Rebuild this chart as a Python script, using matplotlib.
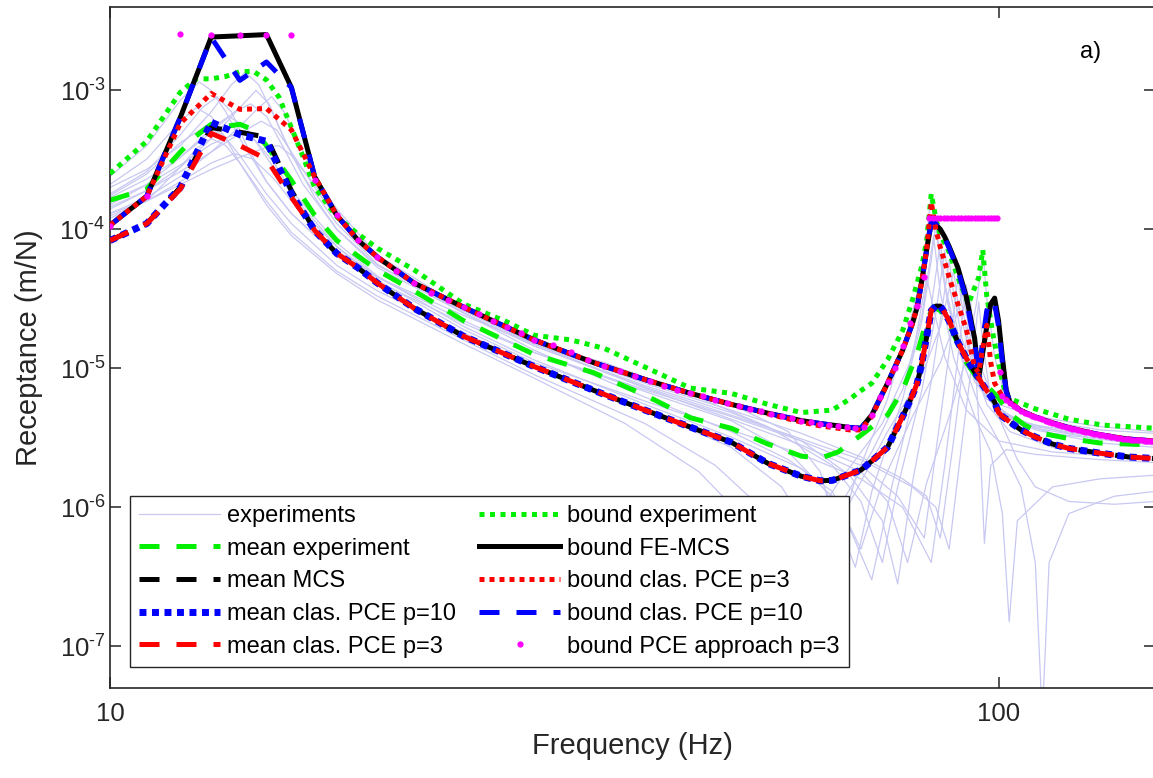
import matplotlib
matplotlib.use("Agg")
import matplotlib.pyplot as plt
import numpy as np
from matplotlib.ticker import FixedLocator, NullLocator, FixedFormatter

plt.rcParams['font.family'] = ['Liberation Sans', 'DejaVu Sans']
plt.rcParams['mathtext.fontset'] = 'custom'
plt.rcParams['mathtext.rm'] = 'Liberation Sans'
plt.rcParams['mathtext.it'] = 'Liberation Sans:italic'
plt.rcParams['axes.unicode_minus'] = False

# ---------------- data ----------------
# measured FRFs, (frequency Hz, receptance m/N)
exp_curves = [
    [(10, 2.4e-4), (11, 4.0e-4), (12, 8.5e-4), (12.6, 1.15e-3), (13, 1.0e-3), (13.5, 7e-4), (14, 4.5e-4),
     (15, 2.2e-4), (16, 1.3e-4), (17, 9e-5), (18, 7e-5), (20, 4.5e-5), (25, 2.4e-5), (30, 1.5e-5), (40, 8e-6),
     (50, 5.5e-6), (58, 3.5e-6), (63, 1.8e-6), (66, 6e-7), (69, 1.6e-6), (75, 6e-6), (80, 2.5e-5), (82, 5e-5),
     (83, 9e-5), (84, 1.8e-4), (85, 1e-4), (87, 4e-5), (90, 1.6e-5), (95, 8e-6), (100, 5.5e-6), (110, 4.5e-6),
     (130, 3.8e-6), (150, 3.5e-6)],
    [(10, 1.8e-4), (11, 2.6e-4), (12, 4.8e-4), (12.7, 7.5e-4), (13.2, 9e-4), (13.7, 7e-4), (14.2, 4.2e-4),
     (15, 2.2e-4), (16, 1.3e-4), (18, 6.5e-5), (20, 4.2e-5), (25, 2.1e-5), (30, 1.3e-5), (40, 6.8e-6),
     (50, 4.2e-6), (58, 2.5e-6), (64, 1.3e-6), (69, 3.7e-7), (72, 1.3e-6), (78, 6e-6), (82, 2.2e-5),
     (84, 6e-5), (85, 1.1e-4), (86, 6e-5), (88, 2.6e-5), (92, 1.1e-5), (97, 6e-6), (105, 4.2e-6),
     (120, 3.4e-6), (150, 3.1e-6)],
    [(10, 2.0e-4), (11, 2.7e-4), (12, 4e-4), (13, 7e-4), (13.7, 1.1e-3), (14.2, 1.35e-3), (14.7, 1.1e-3),
     (15.3, 6.5e-4), (16, 3.5e-4), (17, 1.7e-4), (18, 1.0e-4), (20, 5.5e-5), (25, 2.6e-5), (30, 1.5e-5),
     (36, 1.1e-5), (45, 6.5e-6), (55, 3.8e-6), (65, 2e-6), (70, 1.1e-6), (74, 4e-7), (77, 1.4e-6), (82, 7e-6),
     (85, 2.5e-5), (87, 7e-5), (88, 4e-5), (90, 1.8e-5), (94, 8e-6), (100, 5e-6), (110, 3.8e-6),
     (130, 3.2e-6), (150, 3e-6)],
    [(10, 1.4e-4), (11, 1.9e-4), (12, 2.8e-4), (13, 4.5e-4), (14, 7.5e-4), (14.6, 1.0e-3), (15.1, 8e-4),
     (15.7, 4.5e-4), (16.5, 2.4e-4), (18, 1.1e-4), (20, 5.6e-5), (25, 2.5e-5), (30, 1.45e-5), (40, 7.5e-6),
     (50, 4.8e-6), (60, 3e-6), (68, 1.7e-6), (74, 8e-7), (77, 2.8e-7), (80, 1.5e-6), (84, 8e-6), (86, 2.2e-5),
     (88, 6e-5), (89, 3.5e-5), (91, 1.6e-5), (95, 7.5e-6), (100, 4.8e-6), (110, 3.7e-6), (130, 3.1e-6),
     (150, 2.9e-6)],
    [(10, 1.5e-4), (11, 2.1e-4), (12, 3.3e-4), (13, 5.3e-4), (13.6, 6.5e-4), (14.2, 5.5e-4), (15, 3.3e-4),
     (16, 1.8e-4), (18, 7.5e-5), (20, 4.5e-5), (25, 2.2e-5), (30, 1.3e-5), (40, 7e-6), (50, 4.5e-6),
     (60, 3e-6), (70, 2e-6), (77, 1.2e-6), (82.5, 6e-7), (85, 2.5e-6), (88, 1.3e-5), (90, 4.5e-5),
     (91, 2.8e-5), (93, 1.3e-5), (97, 6.5e-6), (103, 4.3e-6), (115, 3.4e-6), (135, 3e-6), (150, 2.8e-6)],
    [(10, 1.3e-4), (11, 1.7e-4), (12, 2.4e-4), (13, 3.6e-4), (14, 5.5e-4), (14.7, 7.5e-4), (15.2, 9e-4),
     (15.7, 7e-4), (16.3, 4.2e-4), (17, 2.4e-4), (18, 1.4e-4), (20, 6.5e-5), (25, 2.7e-5), (30, 1.5e-5),
     (40, 7.8e-6), (50, 5e-6), (60, 3.4e-6), (70, 2.3e-6), (78, 1.6e-6), (83, 1.2e-6), (86, 6e-7), (89, 3e-6),
     (91.5, 1.2e-5), (93, 3e-5), (94, 1.3e-5), (95.3, 3e-6), (96.4, 5.5e-7), (98, 2e-6), (102, 2.6e-6),
     (110, 2.4e-6), (130, 2.2e-6), (150, 2.1e-6)],
    [(10, 1.2e-4), (11, 1.6e-4), (12, 2.8e-4), (12.5, 3.8e-4), (13, 4.5e-4), (13.5, 4e-4), (14, 3e-4),
     (15, 1.6e-4), (16, 9.5e-5), (18, 5e-5), (20, 3.3e-5), (25, 1.6e-5), (30, 9e-6), (40, 4e-6), (48, 2e-6),
     (54, 1e-6), (60, 2e-7), (64, 7e-7), (72, 2.5e-6), (78, 7e-6), (82, 2.4e-5), (84.5, 9e-5), (86, 3.5e-5),
     (89, 1.2e-5), (94, 4.5e-6), (98, 2.5e-6), (101, 9e-7), (102.8, 1.5e-7), (105, 8e-7), (115, 1.4e-6),
     (130, 1.6e-6), (150, 1.7e-6)],
    [(10, 1.6e-4), (11, 2.1e-4), (12, 2.9e-4), (13, 4.1e-4), (14, 5e-4), (14.6, 4.3e-4), (15.3, 3e-4),
     (16, 1.9e-4), (18, 8e-5), (20, 4.6e-5), (25, 2e-5), (30, 1.15e-5), (40, 5.5e-6), (50, 3.2e-6),
     (60, 1.9e-6), (66, 1.1e-6), (72, 3e-7), (76, 1.5e-6), (81, 8e-6), (84, 2.8e-5), (86, 8e-5), (87, 4e-5),
     (90, 1.4e-5), (95, 5.5e-6), (100, 3e-6), (106, 1.4e-6), (110, 4e-7), (112, 3e-8), (114, 4e-7),
     (120, 9e-7), (135, 1.2e-6), (150, 1.3e-6)],
    [(10, 1.45e-4), (11, 1.9e-4), (12, 2.6e-4), (13, 3.6e-4), (14, 4.9e-4), (14.8, 6e-4), (15.4, 5.2e-4),
     (16, 3.6e-4), (17, 2e-4), (18, 1.2e-4), (20, 6e-5), (25, 2.6e-5), (30, 1.5e-5), (40, 7.2e-6),
     (50, 4.3e-6), (60, 2.8e-6), (70, 1.8e-6), (75, 1.1e-6), (79, 4e-7), (83, 1.5e-6), (88, 4.5e-6),
     (92, 1.2e-5), (94.5, 3e-5), (96, 7e-5), (97, 3.2e-5), (99, 1.2e-5), (102, 6e-6), (110, 4.3e-6),
     (130, 3.6e-6), (150, 3.4e-6)],
    [(10, 1.75e-4), (11, 2.5e-4), (12, 4.2e-4), (12.8, 5.5e-4), (13.4, 4.8e-4), (14, 3.4e-4), (15, 1.8e-4),
     (16, 1.1e-4), (18, 5.5e-5), (20, 3.6e-5), (25, 1.8e-5), (30, 1.05e-5), (40, 5e-6), (50, 2.7e-6),
     (57, 1.4e-6), (61, 7e-7), (64, 2.5e-7), (67, 9e-7), (75, 3.5e-6), (82, 9e-6), (86, 2e-5), (89, 5e-5),
     (90, 3e-5), (93, 1.2e-5), (97, 5.5e-6), (103, 3.5e-6), (115, 2.7e-6), (130, 2.4e-6), (150, 2.3e-6)],
    [(10, 1.3e-4), (11, 1.6e-4), (12, 2.1e-4), (13, 2.7e-4), (14, 3.3e-4), (15, 3.9e-4), (15.5, 4e-4),
     (16, 3.4e-4), (17, 2.1e-4), (18, 1.3e-4), (20, 6e-5), (25, 2.5e-5), (30, 1.35e-5), (40, 6.2e-6),
     (50, 3.5e-6), (58, 2.2e-6), (65, 1.3e-6), (70, 5e-7), (74, 1.5e-6), (80, 4.5e-6), (86, 1.1e-5),
     (89, 2e-5), (91, 3.5e-5), (92, 2.4e-5), (95, 1.1e-5), (100, 5e-6), (110, 3.6e-6), (130, 2.9e-6),
     (150, 2.7e-6)],
    [(10, 1.25e-4), (11, 1.6e-4), (12, 2.2e-4), (13, 3e-4), (13.8, 3.5e-4), (14.5, 3.2e-4), (15.3, 2.3e-4),
     (16, 1.6e-4), (18, 7.5e-5), (20, 4.3e-5), (25, 1.9e-5), (30, 1.1e-5), (40, 5.8e-6), (50, 3.6e-6),
     (60, 2.4e-6), (70, 1.6e-6), (78, 1e-6), (84, 4e-7), (87, 2e-6), (90, 1.2e-5), (92, 4e-5), (93, 2.2e-5),
     (96, 8e-6), (100, 4.5e-6), (105, 2.2e-6), (110, 1.4e-6), (120, 1.1e-6), (135, 1.05e-6), (150, 1.1e-6)],
    [(10, 2.1e-4), (11, 3.2e-4), (12, 6e-4), (12.5, 7.5e-4), (13, 6.5e-4), (13.5, 4.5e-4), (14, 3e-4),
     (15, 1.5e-4), (16, 9e-5), (18, 4.8e-5), (20, 3.1e-5), (25, 1.5e-5), (30, 8.5e-6), (38, 4e-6),
     (46, 1.8e-6), (52, 8e-7), (56, 1.2e-7), (59, 5e-7), (66, 1.5e-6), (74, 4e-6), (80, 1.2e-5), (83, 4.5e-5),
     (84, 3.2e-5), (87, 1.2e-5), (92, 5e-6), (100, 3e-6), (115, 2.5e-6), (150, 2.2e-6)],
    [(10, 1.7e-4), (11, 2.3e-4), (12, 3.3e-4), (13, 5e-4), (13.8, 7e-4), (14.4, 8e-4), (15, 6.5e-4),
     (15.7, 3.8e-4), (16.5, 2.1e-4), (18, 1e-4), (20, 5.3e-5), (25, 2.5e-5), (30, 1.45e-5), (40, 7.3e-6),
     (50, 4.6e-6), (60, 3.1e-6), (70, 2.2e-6), (80, 1.4e-6), (85, 1e-6), (88, 5e-7), (91, 3e-6),
     (93.5, 1.2e-5), (95, 3e-5), (96, 1.5e-5), (98, 6e-6), (102, 4.5e-6), (110, 3.9e-6), (130, 3.3e-6),
     (150, 3.1e-6)],
]

# experiment statistics
f_mean_exp = [10, 11, 12, 12.5, 13, 13.5, 14, 14.5, 15, 16, 17, 18, 20, 22, 25, 30, 35, 40, 45, 50, 55, 60,
              63, 66, 70, 75, 78, 81, 83, 84.5, 86, 88, 90, 92, 95, 98, 100, 103, 107, 112, 120, 130, 150]
mean_exp = [1.62e-4, 1.95e-4, 3.6e-4, 4.7e-4, 5.7e-4, 5.5e-4, 5.7e-4, 5.2e-4, 4.0e-4, 2.25e-4, 1.26e-4,
            8.3e-5, 5.07e-5, 3.6e-5, 2.2e-5, 1.26e-5, 9.3e-6, 6.4e-6, 4.4e-6, 3.7e-6, 2.85e-6, 2.33e-6,
            2.25e-6, 2.5e-6, 3.3e-6, 4.6e-6, 6.95e-6, 1.28e-5, 2.2e-5, 2.76e-5, 2.6e-5, 2.07e-5, 1.51e-5,
            1.1e-5, 8.2e-6, 7.0e-6, 6.1e-6, 4.7e-6, 3.9e-6, 3.4e-6, 3.12e-6, 2.9e-6, 2.8e-6]

f_bound_exp = [10, 11, 12, 12.5, 13, 13.5, 14, 14.5, 15, 15.5, 16, 16.5, 17, 18, 19, 20, 22, 25, 28, 30, 33,
               36, 40, 45, 50, 55, 60, 65, 68, 70, 72, 75, 78, 80, 82, 83, 84, 85, 86, 87.6, 90.5, 92.5, 94,
               95, 96, 97, 98.7, 100.4, 102, 110, 120, 131, 150]
bound_exp = [2.52e-4, 4.3e-4, 9.7e-4, 1.21e-3, 1.21e-3, 1.26e-3, 1.36e-3, 1.37e-3, 1.19e-3, 8.9e-4, 5.4e-4,
             3.3e-4, 2.0e-4, 1.23e-4, 9.3e-5, 7.3e-5, 5.1e-5, 2.9e-5, 2.15e-5, 1.73e-5, 1.6e-5, 1.39e-5,
             1.02e-5, 7.2e-6, 6.6e-6, 5.5e-6, 4.8e-6, 5.0e-6, 6.0e-6, 6.9e-6, 7.8e-6, 1.15e-5, 1.87e-5, 3.1e-5,
             5.5e-5, 8.3e-5, 1.8e-4, 1.2e-4, 9e-5, 7.4e-5, 4.1e-5, 2.9e-5, 3.8e-5, 4.5e-5, 7.1e-5, 3.3e-5,
             1.67e-5, 9.6e-6, 6.2e-6, 5.1e-6, 4.3e-6, 3.9e-6, 3.7e-6]

# simulated FRFs on a common frequency grid
f_sim = [10, 11, 12, 13, 14, 15, 16, 17, 18, 19, 20, 22, 25, 30, 35, 40, 45, 50, 55, 60,
         63, 65, 68, 70, 72, 75, 78, 80, 81, 82, 83, 84, 85, 86, 87, 88, 90, 92, 94, 95,
         96, 97, 98, 99, 100, 101, 102, 103, 106, 110, 115, 120, 130, 140, 150]

mean_mcs = [8.3e-5, 1.1e-4, 2.0e-4, 5.4e-4, 5.0e-4, 4.6e-4, 1.9e-4, 9.8e-5, 6.7e-5, 5.3e-5, 4.1e-5,
            2.7e-5, 1.7e-5, 1.03e-5, 6.95e-6, 5.0e-6, 3.77e-6, 2.94e-6, 2.07e-6, 1.67e-6,
            1.55e-6, 1.56e-6, 1.73e-6, 1.85e-6, 2.15e-6, 2.7e-6, 4.5e-6, 6.4e-6,
            7.8e-6, 1.1e-5, 1.68e-5, 2.6e-5, 2.8e-5, 2.8e-5, 2.5e-5, 2.2e-5,
            1.54e-5, 1.18e-5, 9.4e-6,
            8.5e-6, 7.6e-6, 6.9e-6, 6.3e-6, 5.7e-6, 4.8e-6, 4.5e-6, 4.3e-6, 4.1e-6,
            3.6e-6, 3.2e-6, 2.85e-6, 2.65e-6, 2.45e-6, 2.3e-6, 2.24e-6]
mean_p10 = [8.3e-5, 1.1e-4, 2.0e-4, 5.9e-4, 4.8e-4, 4.3e-4, 1.8e-4, 9.8e-5, 6.7e-5, 5.3e-5, 4.1e-5,
            2.7e-5, 1.7e-5, 1.03e-5, 6.95e-6, 5.0e-6, 3.77e-6, 2.94e-6, 2.07e-6, 1.67e-6,
            1.55e-6, 1.56e-6, 1.73e-6, 1.85e-6, 2.15e-6, 2.7e-6, 4.5e-6, 6.4e-6,
            7.8e-6, 1.1e-5, 1.68e-5, 2.6e-5, 2.8e-5, 2.8e-5, 2.5e-5, 2.2e-5,
            1.54e-5, 1.18e-5, 9.4e-6,
            8.5e-6, 7.6e-6, 6.9e-6, 6.3e-6, 5.7e-6, 4.8e-6, 4.5e-6, 4.3e-6, 4.1e-6,
            3.6e-6, 3.2e-6, 2.85e-6, 2.65e-6, 2.45e-6, 2.3e-6, 2.24e-6]
mean_p3 = [8.3e-5, 1.1e-4, 1.95e-4, 4.9e-4, 4.0e-4, 3.2e-4, 1.7e-4, 9.8e-5, 6.7e-5, 5.3e-5, 4.1e-5,
           2.7e-5, 1.7e-5, 1.03e-5, 6.95e-6, 5.0e-6, 3.77e-6, 2.94e-6, 2.07e-6, 1.67e-6,
           1.55e-6, 1.56e-6, 1.73e-6, 1.85e-6, 2.15e-6, 2.7e-6, 4.5e-6, 6.4e-6,
           7.8e-6, 1.1e-5, 1.68e-5, 2.6e-5, 2.9e-5, 2.9e-5, 2.5e-5, 2.2e-5,
           1.54e-5, 1.18e-5, 9.4e-6,
           8.5e-6, 7.6e-6, 6.9e-6, 6.3e-6, 5.7e-6, 4.8e-6, 4.5e-6, 4.3e-6, 4.1e-6,
           3.6e-6, 3.2e-6, 2.85e-6, 2.65e-6, 2.45e-6, 2.3e-6, 2.24e-6]

bound_mcs = [1.07e-4, 1.73e-4, 6.4e-4, 2.42e-3, 2.47e-3, 2.52e-3, 1.05e-3, 2.38e-4, 1.26e-4, 8.4e-5, 6.3e-5,
             4.1e-5, 2.75e-5, 1.6e-5, 1.1e-5, 8.3e-6, 6.6e-6, 5.5e-6, 4.75e-6, 4.2e-6,
             4.0e-6, 3.9e-6, 3.75e-6, 3.7e-6, 4.6e-6, 7.8e-6, 1.35e-5, 2.1e-5,
             2.76e-5, 4.3e-5, 7.1e-5, 1.12e-4, 1.08e-4, 1.0e-4, 8.8e-5, 7.5e-5,
             5.3e-5, 3.26e-5, 1.64e-5,
             8.6e-6, 1.3e-5, 2.0e-5, 2.9e-5, 3.2e-5, 2.2e-5, 1.2e-5, 7.0e-6, 5.7e-6,
             4.95e-6, 4.46e-6, 4.05e-6, 3.73e-6, 3.32e-6, 3.09e-6, 2.99e-6]
bound_p10 = [1.07e-4, 1.73e-4, 6.4e-4, 2.4e-3, 1.18e-3, 1.6e-3, 1.05e-3, 2.38e-4, 1.26e-4, 8.4e-5, 6.3e-5,
             4.1e-5, 2.75e-5, 1.6e-5, 1.1e-5, 8.3e-6, 6.6e-6, 5.5e-6, 4.75e-6, 4.2e-6,
             4.0e-6, 3.9e-6, 3.75e-6, 3.7e-6, 4.6e-6, 7.8e-6, 1.35e-5, 2.1e-5,
             2.76e-5, 4.3e-5, 7.1e-5, 1.12e-4, 1.1e-4, 9.8e-5, 8.6e-5, 7.3e-5,
             5.1e-5, 3.1e-5, 1.5e-5,
             9.0e-6, 1.6e-5, 2.6e-5, 3.1e-5, 2.9e-5, 2.0e-5, 1.1e-5, 6.8e-6, 5.7e-6,
             4.95e-6, 4.46e-6, 4.05e-6, 3.73e-6, 3.32e-6, 3.09e-6, 2.99e-6]
bound_p3 = [1.07e-4, 1.73e-4, 5.8e-4, 9.5e-4, 7.3e-4, 7.4e-4, 5.2e-4, 2.38e-4, 1.26e-4, 8.4e-5, 6.3e-5,
            4.1e-5, 2.75e-5, 1.6e-5, 1.1e-5, 8.3e-6, 6.6e-6, 5.5e-6, 4.7e-6, 4.1e-6,
            3.85e-6, 3.75e-6, 3.6e-6, 3.6e-6, 4.5e-6, 7.8e-6, 1.35e-5, 2.1e-5,
            2.76e-5, 4.3e-5, 7.1e-5, 1.57e-4, 1.0e-4, 7.4e-5, 5.8e-5, 4.5e-5,
            2.9e-5, 1.9e-5, 1.02e-5,
            9.3e-6, 1.4e-5, 2.04e-5, 1.1e-5, 7.8e-6, 7.0e-6, 6.3e-6, 6.0e-6, 5.7e-6,
            4.95e-6, 4.46e-6, 4.05e-6, 3.73e-6, 3.32e-6, 3.09e-6, 2.99e-6]

# PCE approach bound, plotted as points
f_approach = (list(range(10, 31)) + list(np.arange(31.5, 83, 1.5)) +
              list(np.round(np.arange(83.6, 99.7, 0.8), 1)) + [100.4] + list(range(101, 151)))
bound_approach = [
    1.06e-4, 1.74e-4, 2.53e-3, 2.5e-3, 2.5e-3, 2.5e-3, 2.5e-3, 2.25e-4, 1.26e-4, 8.4e-5, 6.3e-5,
    5.0e-5, 4.1e-5, 3.5e-5, 3.1e-5, 2.75e-5, 2.45e-5, 2.2e-5, 1.98e-5, 1.78e-5, 1.6e-5,
    1.46e-5, 1.3e-5, 1.15e-5, 1.04e-5, 9.6e-6, 8.8e-6, 8.1e-6, 7.5e-6, 7.0e-6, 6.6e-6, 6.3e-6, 5.95e-6,
    5.6e-6, 5.35e-6, 5.1e-6, 4.9e-6, 4.7e-6, 4.5e-6, 4.35e-6, 4.2e-6, 4.1e-6, 4.0e-6, 3.92e-6, 3.85e-6,
    3.78e-6, 3.72e-6, 3.75e-6, 4.6e-6, 6.2e-6, 8.0e-6, 1.0e-5, 1.45e-5, 2.1e-5, 2.8e-5, 4.5e-5,
    1.2e-4, 1.2e-4, 1.2e-4, 1.2e-4, 1.2e-4, 1.2e-4, 1.2e-4, 1.2e-4, 1.2e-4, 1.2e-4, 1.2e-4,
    1.2e-4, 1.2e-4, 1.2e-4, 1.2e-4, 1.2e-4, 1.2e-4, 1.2e-4, 1.2e-4, 1.2e-4, 1.2e-4,
    9.4e-6,
    6.3e-6, 5.9e-6, 5.6e-6, 5.35e-6, 5.15e-6, 4.95e-6, 4.8e-6, 4.67e-6, 4.56e-6, 4.46e-6,
    4.37e-6, 4.28e-6, 4.2e-6, 4.12e-6, 4.05e-6, 3.98e-6, 3.91e-6, 3.85e-6, 3.79e-6, 3.73e-6,
    3.68e-6, 3.63e-6, 3.58e-6, 3.54e-6, 3.5e-6, 3.46e-6, 3.42e-6, 3.38e-6, 3.35e-6, 3.32e-6,
    3.29e-6, 3.26e-6, 3.23e-6, 3.21e-6, 3.18e-6, 3.16e-6, 3.14e-6, 3.12e-6, 3.1e-6, 3.09e-6,
    3.07e-6, 3.06e-6, 3.05e-6, 3.04e-6, 3.03e-6, 3.02e-6, 3.01e-6, 3.0e-6, 3.0e-6, 2.99e-6]

x_ticks = [10, 100]
x_ticklabels = ['10', '100']
y_ticks = [1e-7, 1e-6, 1e-5, 1e-4, 1e-3]
y_ticklabels = ['$10^{\u20107}$', '$10^{\u20106}$', '$10^{\u20105}$', '$10^{\u20104}$', '$10^{\u20103}$']

# ---------------- plot ----------------
fig = plt.figure(figsize=(11.53, 7.78), dpi=100)
ax = fig.add_axes([110 / 1153, 90 / 778, 1045 / 1153, 681 / 778])

lw = 3.6
green = '#00f000'
for i, c in enumerate(exp_curves):
    f, v = zip(*c)
    ax.plot(f, v, color='#c8c8f2', lw=0.9, zorder=1, label='experiments' if i == 0 else None)

h_exp = ax.lines[0]
h_mexp, = ax.plot(f_mean_exp, mean_exp, color=green, lw=lw, dashes=(4.0, 3.4), zorder=2,
                  label='mean experiment')
h_bexp, = ax.plot(f_bound_exp, bound_exp, color=green, lw=lw, dashes=(1.0, 1.1), zorder=3,
                  label='bound experiment')
h_mmcs, = ax.plot(f_sim, mean_mcs, color='k', lw=lw, dashes=(4.0, 3.4), zorder=4, label='mean MCS')
h_bmcs, = ax.plot(f_sim, bound_mcs, color='k', lw=lw, zorder=5, label='bound FE-MCS')
h_m10, = ax.plot(f_sim, mean_p10, color='#0000ff', lw=5.0, dashes=(1.0, 0.8), zorder=6,
                 label='mean clas. PCE p=10')
h_b10, = ax.plot(f_sim, bound_p10, color='#0000ff', lw=lw, dashes=(4.0, 3.4), zorder=7,
                 label='bound clas. PCE p=10')
h_m3, = ax.plot(f_sim, mean_p3, color='#ff0000', lw=lw, dashes=(4.0, 3.4), zorder=8,
                label='mean clas. PCE p=3')
h_b3, = ax.plot(f_sim, bound_p3, color='#ff0000', lw=lw, dashes=(1.0, 1.0), zorder=9,
                label='bound clas. PCE p=3')
h_app, = ax.plot(f_approach, bound_approach, ls='none', marker='o', ms=4.5, mew=0, color='#ff00ff',
                 zorder=10, label='bound PCE approach p=3')

for ln in ax.lines:
    ln.set_dash_capstyle('butt')

ax.set_xscale('log')
ax.set_yscale('log')
ax.set_xlim(10, 150)
ax.set_ylim(5e-8, 3.98e-3)

ax.xaxis.set_major_locator(FixedLocator(x_ticks))
ax.xaxis.set_major_formatter(FixedFormatter(x_ticklabels))
ax.xaxis.set_minor_locator(NullLocator())
ax.yaxis.set_major_locator(FixedLocator(y_ticks))
ax.yaxis.set_major_formatter(FixedFormatter(y_ticklabels))
ax.yaxis.set_minor_locator(NullLocator())

dark = '#262626'
for s in ax.spines.values():
    s.set_color(dark)
    s.set_linewidth(1.2)
ax.tick_params(which='both', direction='in', length=8, width=1.1, colors=dark, labelsize=18.5,
               top=True, right=True)
ax.tick_params(axis='x', pad=10)
ax.tick_params(axis='y', pad=3)

ax.set_xlabel('Frequency (Hz)', fontsize=21, color=dark)
ax.set_ylabel('Receptance (m/N)', fontsize=21, color=dark)
ax.xaxis.set_label_coords(0.5, -0.064)
ax.yaxis.set_label_coords(-0.064, 0.5)

ax.text(0.938, 0.934, 'a)', transform=ax.transAxes, fontsize=17, ha='center', va='center', color='k')

handles = [h_exp, h_mexp, h_mmcs, h_m10, h_m3, h_bexp, h_bmcs, h_b3, h_b10, h_app]
leg = ax.legend(handles=handles, ncol=2, loc='lower left', bbox_to_anchor=(0.0191, 0.0308),
                borderaxespad=0, fontsize=17, handlelength=3.4, handletextpad=0.3, columnspacing=1.0,
                labelspacing=0.45, borderpad=0.4, fancybox=False, framealpha=1, edgecolor=dark)
leg.get_frame().set_linewidth(1.0)
leg.set_zorder(20)

fig.savefig('out.png', dpi=100)
